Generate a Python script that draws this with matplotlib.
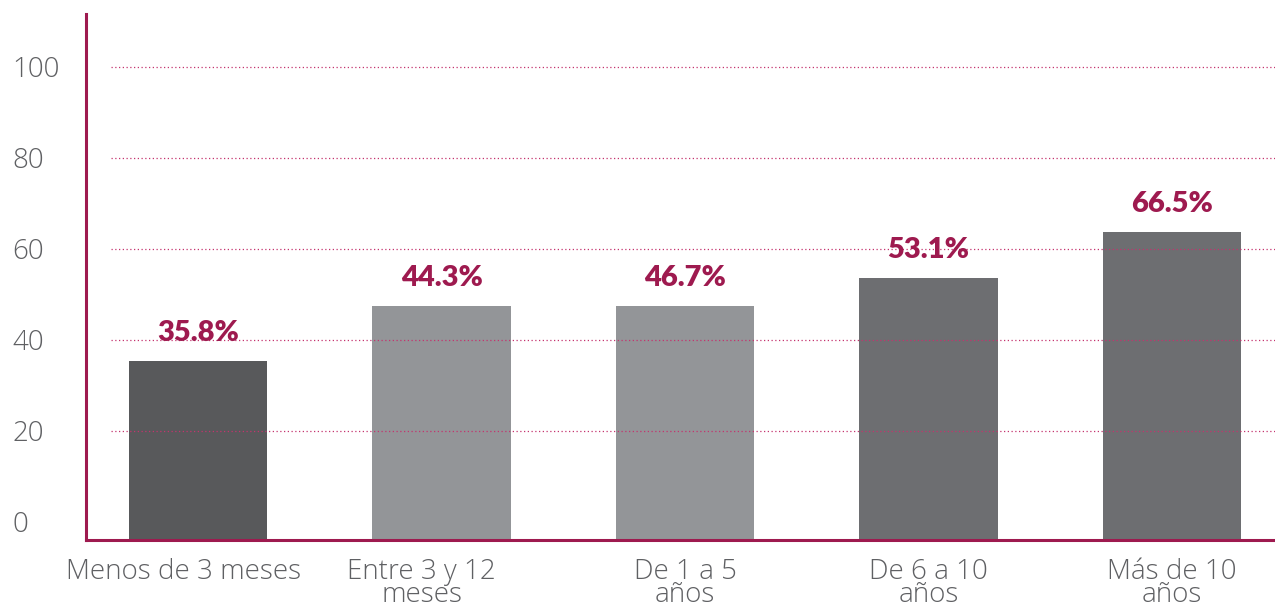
import matplotlib.pyplot as plt
from matplotlib.transforms import ScaledTranslation

categories = ["Menos de 3 meses", "Entre 3 y 12\nmeses", "De 1 a 5\naños",
              "De 6 a 10\naños", "Más de 10\naños"]
bar_values = [35.4, 47.5, 47.5, 53.6, 63.7]   # heights as drawn in the picture
pct_values = [35.8, 44.3, 46.7, 53.1, 66.5]   # printed labels
bar_colors = ["#58595b", "#939598", "#939598", "#6d6e71", "#6d6e71"]
yticks = [0, 20, 40, 60, 80, 100]

CRIMSON = "#9e1a4f"
GRID = "#c4336e"
TICK_GREY = "#5f6063"

plt.rcParams['font.family'] = ['Open Sans', 'DejaVu Sans']

fig = plt.figure(figsize=(12.75, 6.05), dpi=100)
ax = fig.add_axes([86 / 1275, 65 / 605, 1 - 86 / 1275, 526 / 605])

y0, y1 = -3.96, 111.6
ax.set_ylim(y0, y1)
ax.set_xlim(-0.46, 4.423)

x = range(len(categories))
ax.bar(x, [v - y0 for v in bar_values], bottom=y0, width=0.567,
       color=bar_colors, zorder=1)

# dotted guide lines (not at zero)
ax.hlines(yticks[1:], -0.357, 4.423, colors=GRID, linestyles=(0, (1, 2)),
          linewidth=0.9, zorder=2)

for xi, v, p in zip(x, bar_values, pct_values):
    ax.annotate(f"{p:.1f}%", (xi, v), xytext=(0, 20), textcoords="offset points",
                ha="center", va="center", fontsize=21, fontweight="heavy",
                family=["Lato", "DejaVu Sans"], color=CRIMSON, zorder=3)

for side in ("top", "right"):
    ax.spines[side].set_visible(False)
for side in ("left", "bottom"):
    ax.spines[side].set_color(CRIMSON)
    ax.spines[side].set_linewidth(2.2)

ax.set_yticks(yticks)
ax.set_yticklabels([str(t) for t in yticks], fontsize=20, fontweight="light",
                   color=TICK_GREY, ha="left")
ax.tick_params(axis="y", length=0, pad=53)

ax.set_xticks(list(x))
ax.set_xticklabels(categories, fontsize=20, fontweight="light", color=TICK_GREY,
                   linespacing=0.78)
ax.tick_params(axis="x", length=0, pad=13)

# the first two labels sit a little left of their bars in the original
for lab, dx in zip(ax.get_xticklabels(), [-14, -20, 0, 0, 0]):
    lab.set_transform(lab.get_transform() + ScaledTranslation(dx / 100, 0, fig.dpi_scale_trans))

fig.savefig("out.png", dpi=100)
